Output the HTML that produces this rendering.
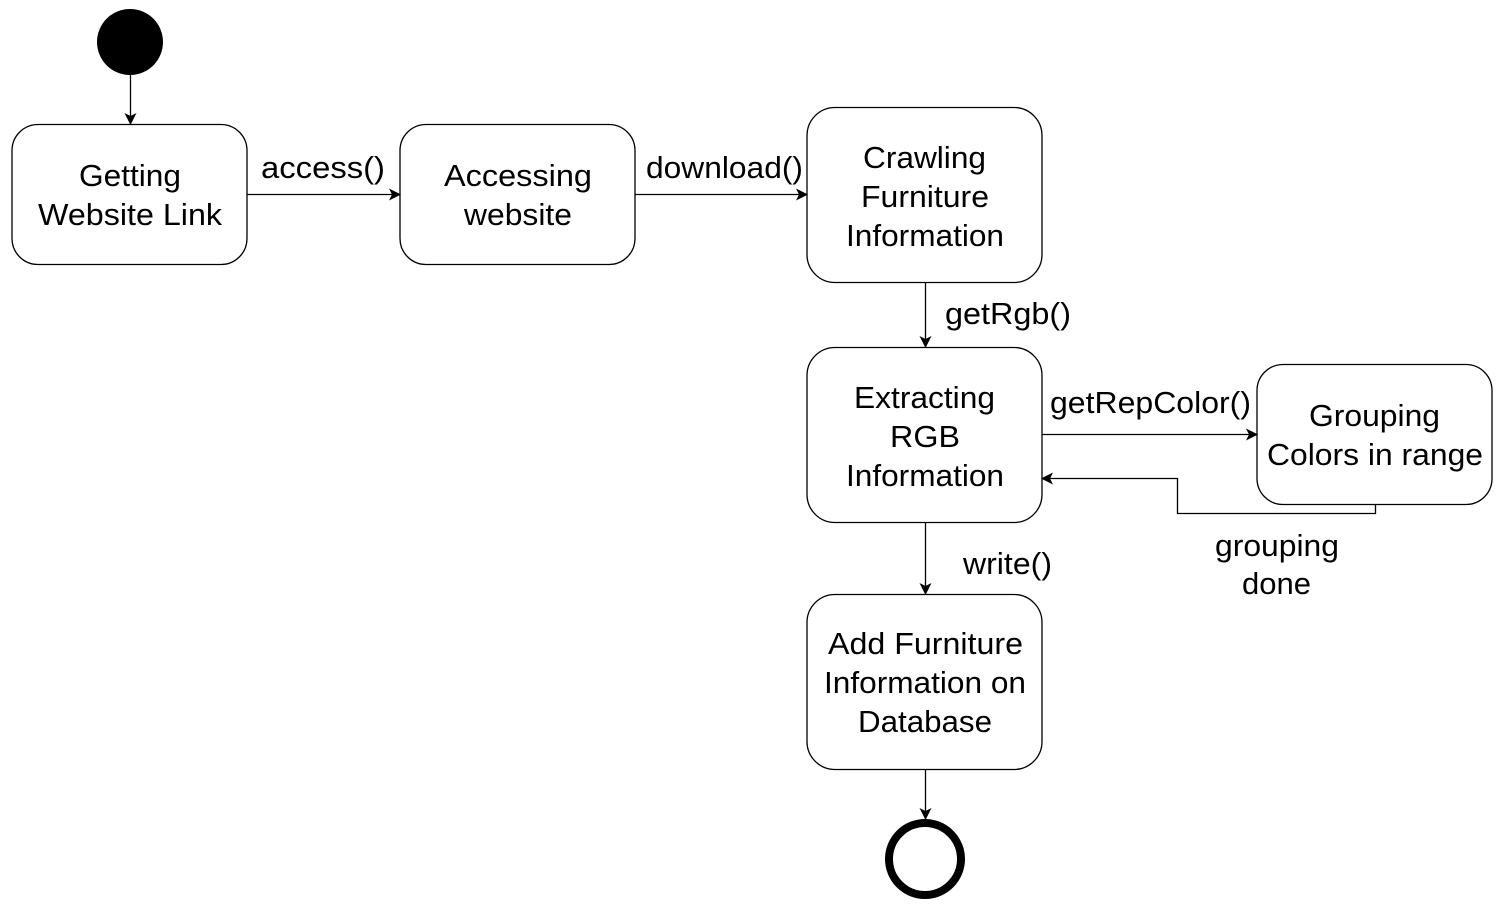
<!DOCTYPE html>
<html><head><meta charset="utf-8"><style>
html,body{margin:0;padding:0;background:#fff;}
svg{display:block;}
text{font-family:"Liberation Sans",Arial,sans-serif;font-size:31px;fill:#000;}
</style></head><body>
<svg width="1508" height="919" viewBox="0 0 1508 919" xmlns="http://www.w3.org/2000/svg">
<defs><marker id="a" markerWidth="12" markerHeight="12" refX="11" refY="6" orient="auto" markerUnits="userSpaceOnUse"><path d="M0,0 L12,6 L0,12 L3,6 Z" fill="#000"/></marker></defs>
<g fill="none" stroke="#000" stroke-width="1.3">
<rect x="12" y="124.5" width="235" height="140" rx="26"/>
<rect x="400" y="124.5" width="235" height="140" rx="26"/>
<rect x="807" y="107.5" width="235" height="175" rx="28"/>
<rect x="807" y="347.5" width="235" height="175" rx="28"/>
<rect x="1257" y="364.5" width="235" height="140" rx="26"/>
<rect x="807" y="594.5" width="235" height="175" rx="28"/>
<path d="M130.5 75 V124" marker-end="url(#a)"/>
<path d="M247 194.5 H400" marker-end="url(#a)"/>
<path d="M635 194.5 H807" marker-end="url(#a)"/>
<path d="M925.5 282 V347" marker-end="url(#a)"/>
<path d="M1042 434.5 H1257" marker-end="url(#a)"/>
<path d="M1375.5 504 V513.5 H1177.5 V478.5 H1042" marker-end="url(#a)"/>
<path d="M925.5 522 V594" marker-end="url(#a)"/>
<path d="M925.5 769 V819" marker-end="url(#a)"/>
</g>
<circle cx="130" cy="42" r="33" fill="#000"/>
<circle cx="925" cy="859" r="36" fill="none" stroke="#000" stroke-width="8"/>
<g lengthAdjust="spacingAndGlyphs">
<text x="79" y="186" textLength="102" lengthAdjust="spacingAndGlyphs">Getting</text>
<text x="38" y="225" textLength="184" lengthAdjust="spacingAndGlyphs">Website Link</text>
<text x="444" y="186" textLength="148" lengthAdjust="spacingAndGlyphs">Accessing</text>
<text x="464" y="225" textLength="108" lengthAdjust="spacingAndGlyphs">website</text>
<text x="863" y="168" textLength="123" lengthAdjust="spacingAndGlyphs">Crawling</text>
<text x="861" y="207" textLength="128" lengthAdjust="spacingAndGlyphs">Furniture</text>
<text x="846" y="246" textLength="158" lengthAdjust="spacingAndGlyphs">Information</text>
<text x="854" y="408" textLength="141" lengthAdjust="spacingAndGlyphs">Extracting</text>
<text x="890" y="447" textLength="70" lengthAdjust="spacingAndGlyphs">RGB</text>
<text x="846" y="486" textLength="158" lengthAdjust="spacingAndGlyphs">Information</text>
<text x="1309" y="426" textLength="131" lengthAdjust="spacingAndGlyphs">Grouping</text>
<text x="1267" y="465" textLength="216" lengthAdjust="spacingAndGlyphs">Colors in range</text>
<text x="828" y="654" textLength="195" lengthAdjust="spacingAndGlyphs">Add Furniture</text>
<text x="824" y="693" textLength="202" lengthAdjust="spacingAndGlyphs">Information on</text>
<text x="858" y="732" textLength="134" lengthAdjust="spacingAndGlyphs">Database</text>
<text x="1215" y="556" textLength="124" lengthAdjust="spacingAndGlyphs">grouping</text>
<text x="1242" y="594" textLength="69" lengthAdjust="spacingAndGlyphs">done</text>
<text x="261" y="178" textLength="124" lengthAdjust="spacingAndGlyphs">access()</text>
<text x="646" y="178" textLength="157" lengthAdjust="spacingAndGlyphs">download()</text>
<text x="945" y="324" textLength="126" lengthAdjust="spacingAndGlyphs">getRgb()</text>
<text x="1050" y="413" textLength="201" lengthAdjust="spacingAndGlyphs">getRepColor()</text>
<text x="963" y="574" textLength="89" lengthAdjust="spacingAndGlyphs">write()</text>
</g>
</svg>
</body></html>
